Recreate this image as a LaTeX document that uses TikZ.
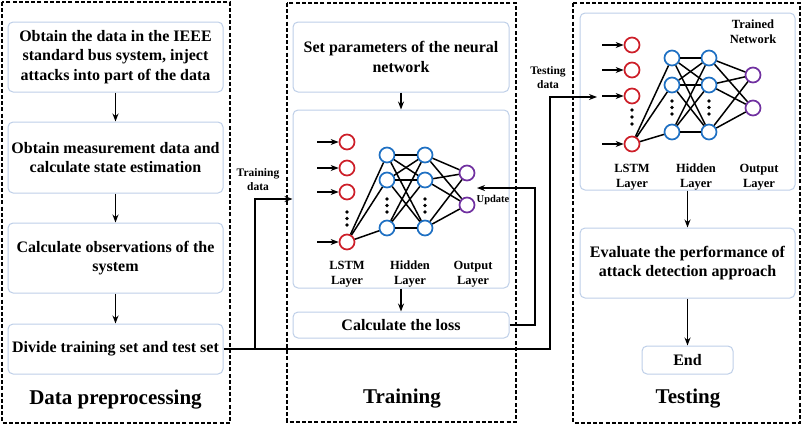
\documentclass[tikz,border=0pt]{standalone}
\usepackage{fontspec}
\setmainfont{Liberation Serif}
\usetikzlibrary{arrows.meta}
\definecolor{boxline}{RGB}{190,207,232}
\definecolor{nred}{RGB}{205,30,40}
\definecolor{nblue}{RGB}{30,112,195}
\definecolor{npurple}{RGB}{112,48,160}
\begin{document}
\begin{tikzpicture}[x=1pt,y=-1pt,
 panel/.style={draw, line width=2.7pt, dash pattern=on 4pt off 2.2pt},
 stepbox/.style={draw=boxline, line width=1pt, rounded corners=5pt, fill=white, align=center, font=\fontsize{16}{19.5}\selectfont\bfseries, inner sep=2pt},
 arr/.style={-{Stealth[length=8pt,width=6pt]}, line width=1.8pt},
 neuron/.style={circle, draw=#1, line width=1.7pt, minimum size=15pt, inner sep=0pt, fill=white},
 edge/.style={line width=1.5pt},
 lbl/.style={font=\fontsize{12.5}{15}\selectfont\bfseries, align=center},
 small/.style={font=\fontsize{11.5}{14}\selectfont\bfseries, align=center},
 ttl/.style={font=\fontsize{21}{25}\selectfont\bfseries},
 dotn/.style={circle, fill, inner sep=0pt, minimum size=3.8pt}
]
\useasboundingbox (0,0) rectangle (803,426);

% panels
\draw[panel] (2,2) rectangle (230,423);
\draw[panel] (287,3) rectangle (516,422);
\draw[panel] (573,3) rectangle (800,423);

% ---------- Data preprocessing ----------
\node[stepbox, minimum width=215pt, minimum height=70pt] (b1) at (115.5,57) {Obtain the data in the IEEE\\standard bus system, inject\\attacks into part of the data};
\node[stepbox, minimum width=215pt, minimum height=71pt] (b2) at (115.5,157.5) {Obtain measurement data and\\calculate state estimation};
\node[stepbox, minimum width=215pt, minimum height=70pt] (b3) at (115.5,258) {Calculate observations of the\\system};
\node[stepbox, minimum width=215pt, minimum height=50pt] (b4) at (115.5,349) {Divide training set and test set};
\node[ttl] (t1) at (115.5,400) {Data preprocessing};
\draw[arr] (b1) -- (b2);
\draw[arr] (b2) -- (b3);
\draw[arr] (b3) -- (b4);

% ---------- Training ----------
\node[stepbox, minimum width=216pt, minimum height=70pt] (par) at (401,57) {Set parameters of the neural\\network};
\node[stepbox, minimum width=216pt, minimum height=178pt] (nn1) at (401,199) {};
\node[stepbox, minimum width=216pt, minimum height=26pt] (loss) at (401,325) {Calculate the loss};
\node[ttl] (t2) at (402,399) {Training};
\draw[arr] (par) -- (nn1);
\draw[arr] (nn1) -- (loss);

% network 1
\node[neuron=nred] (ra1) at (347,142) {};
\node[neuron=nred] (ra2) at (347,168) {};
\node[neuron=nred] (ra3) at (347,192) {};
\node[neuron=nred] (ra4) at (347,242) {};
\foreach \y [count=\i] in {212,218.5,225} \node[dotn] (rda\i) at (347,\y) {};
\foreach \i/\y in {1/142,2/168,3/192,4/242}{
  \coordinate (ina\i) at (317,\y);
  \draw[arr] (ina\i) -- (ra\i);
}
\node[neuron=nblue] (ha1) at (387,155) {};
\node[neuron=nblue] (ha2) at (387,180) {};
\node[neuron=nblue] (ha3) at (387,228) {};
\node[neuron=nblue] (ga1) at (425,155) {};
\node[neuron=nblue] (ga2) at (425,180) {};
\node[neuron=nblue] (ga3) at (425,228) {};
\foreach \y [count=\i] in {199,205.5,212}{
  \node[dotn] (hda\i) at (387,\y) {};
  \node[dotn] (gda\i) at (425,\y) {};
}
\node[neuron=npurple] (oa1) at (467,173) {};
\node[neuron=npurple] (oa2) at (467,205) {};
\foreach \j in {1,2,3} \draw[edge] (ra4) -- (ha\j);
\foreach \i in {1,2,3}{\foreach \j in {1,2,3} \draw[edge] (ha\i) -- (ga\j);}
\foreach \i in {1,2,3}{\foreach \j in {1,2} \draw[edge] (ga\i) -- (oa\j);}
\node[lbl] (la1) at (347,274) {LSTM\\Layer};
\node[lbl] (la2) at (410,274) {Hidden\\Layer};
\node[lbl] (la3) at (473,274) {Output\\Layer};
\node[font=\fontsize{10.5}{12}\selectfont\bfseries] (upl) at (493,200) {Update};

% ---------- Testing ----------
\node[stepbox, minimum width=215pt, minimum height=177pt] (nn2) at (687.5,101.5) {};
\node[stepbox, minimum width=215pt, minimum height=70pt] (ev) at (687.5,263) {Evaluate the performance of\\attack detection approach};
\node[stepbox, minimum width=91pt, minimum height=28pt] (end) at (687.5,360) {End};
\node[ttl] (t3) at (688,399) {Testing};
\draw[arr] (nn2) -- (ev);
\draw[arr] (ev) -- (end);

\node[neuron=nred] (rb1) at (632,45) {};
\node[neuron=nred] (rb2) at (632,70) {};
\node[neuron=nred] (rb3) at (632,96) {};
\node[neuron=nred] (rb4) at (632,144) {};
\foreach \y [count=\i] in {110,117,124} \node[dotn] (rdb\i) at (632,\y) {};
\foreach \i/\y in {1/45,2/70,3/96,4/144}{
  \coordinate (inb\i) at (602,\y);
  \draw[arr] (inb\i) -- (rb\i);
}
\node[neuron=nblue] (hb1) at (672,58) {};
\node[neuron=nblue] (hb2) at (672,85) {};
\node[neuron=nblue] (hb3) at (672,132) {};
\node[neuron=nblue] (gb1) at (709,58) {};
\node[neuron=nblue] (gb2) at (709,85) {};
\node[neuron=nblue] (gb3) at (709,132) {};
\foreach \y [count=\i] in {101,107.5,114}{
  \node[dotn] (hdb\i) at (672,\y) {};
  \node[dotn] (gdb\i) at (709,\y) {};
}
\node[neuron=npurple] (ob1) at (753,75) {};
\node[neuron=npurple] (ob2) at (753,108) {};
\foreach \j in {1,2,3} \draw[edge] (rb4) -- (hb\j);
\foreach \i in {1,2,3}{\foreach \j in {1,2,3} \draw[edge] (hb\i) -- (gb\j);}
\foreach \i in {1,2,3}{\foreach \j in {1,2} \draw[edge] (gb\i) -- (ob\j);}
\node[lbl] (lb1) at (632,177) {LSTM\\Layer};
\node[lbl] (lb2) at (696,177) {Hidden\\Layer};
\node[lbl] (lb3) at (759,177) {Output\\Layer};
\node[lbl] (tn) at (753,32) {Trained\\Network};

% ---------- data flow ----------
\coordinate (j1) at (255,349);
\coordinate (j2) at (550,349);
\coordinate (j3) at (550,97);
\coordinate (tin) at (597,97);
\draw[arr] (b4.east) -- (j2) -- (j3) -- (tin);
\draw[arr] (j1) |- (nn1.west);
\node[small] (trd) at (258,180) {Training\\data};
\node[small] (ted) at (548,78) {Testing\\data};

\coordinate (f2) at (535,188);
\coordinate (upd) at (477,188);
\draw[arr] (loss.east) -| (f2) -- (upd);
\end{tikzpicture}
\end{document}
